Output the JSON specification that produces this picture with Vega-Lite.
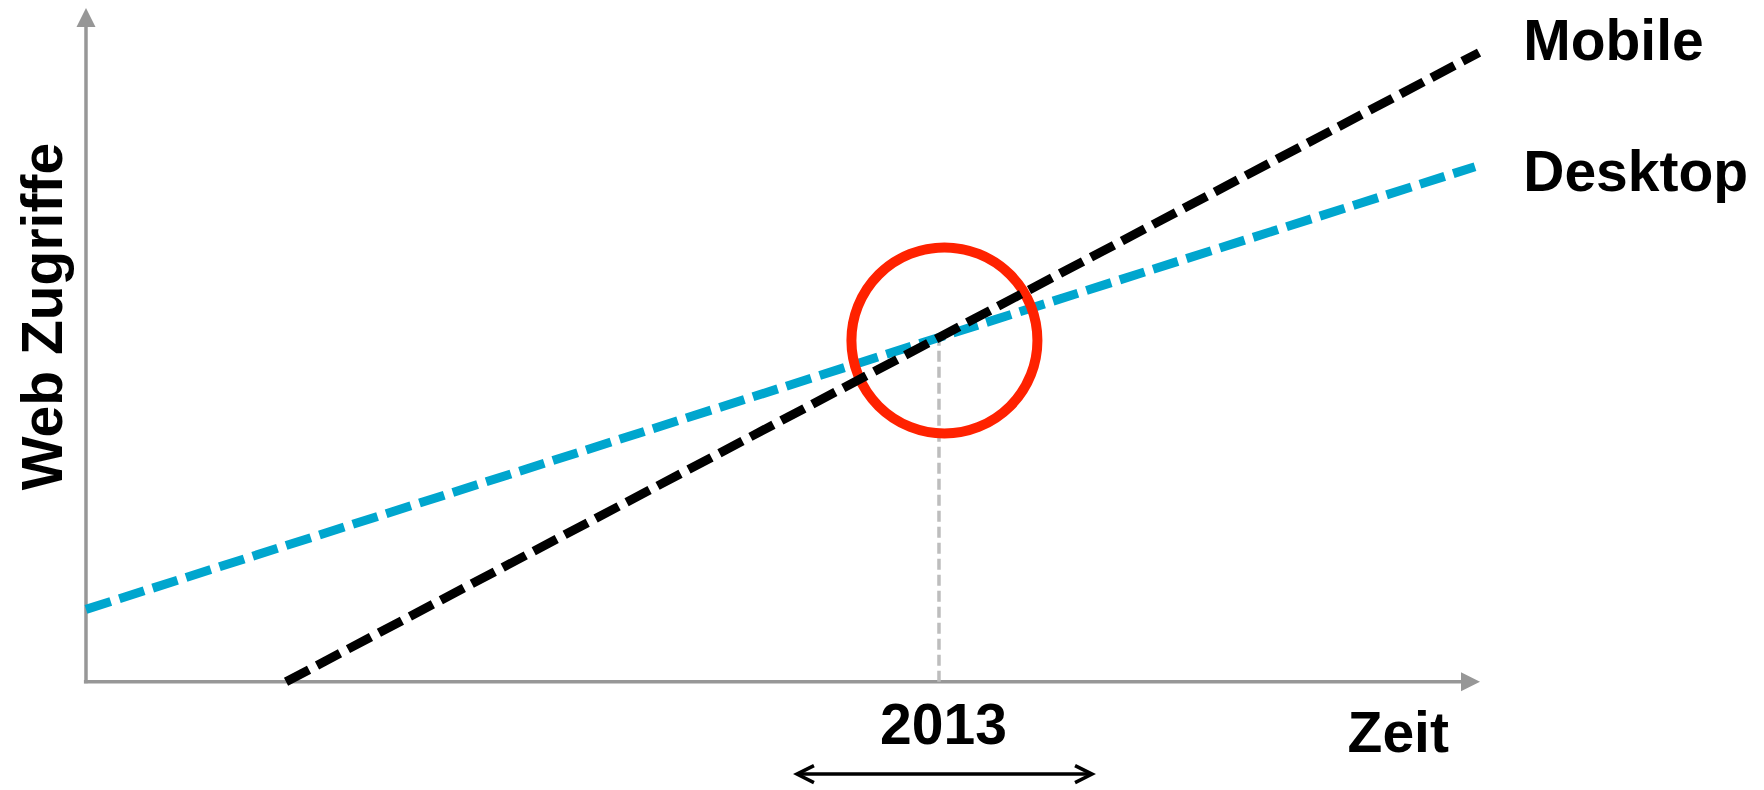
{
  "$schema": "https://vega.github.io/schema/vega-lite/v6.json",
  "width": 1764,
  "height": 790,
  "autosize": {"type": "fit", "contains": "padding"},
  "padding": 0,
  "background": "white",
  "config": {"view": {"stroke": null}, "font": "Liberation Sans"},
  "encoding": {
    "x": {"field": "x", "type": "quantitative", "axis": null, "scale": {"domain": [-6.169, 120.373], "nice": false, "zero": false}},
    "y": {"field": "y", "type": "quantitative", "axis": null, "scale": {"domain": [-15.169, 101.178], "nice": false, "zero": false}}
  },
  "layer": [
    {
      "data": {"values": [
        {"x": -0.15, "y": 0, "x2": 98.9, "y2": 0},
        {"x": 0, "y": -0.2, "x2": 0, "y2": 98.2}
      ]},
      "mark": {"type": "rule", "color": "#979797", "strokeWidth": 3.5},
      "encoding": {"x2": {"field": "x2"}, "y2": {"field": "y2"}}
    },
    {
      "data": {"values": [{"x": 0, "y": 100}]},
      "mark": {"type": "point", "shape": "M 0 0 L -0.5 1 L 0.5 1 Z", "size": 1444, "filled": true, "color": "#979797", "opacity": 1, "strokeWidth": 0}
    },
    {
      "data": {"values": [{"x": 100, "y": 0}]},
      "mark": {"type": "point", "shape": "M 0 0 L -1 -0.5 L -1 0.5 Z", "size": 1444, "filled": true, "color": "#979797", "opacity": 1, "strokeWidth": 0}
    },
    {
      "data": {"values": [{"x": 61.19, "y": 0, "y2": 50.66}]},
      "mark": {"type": "rule", "color": "#BDBDBD", "strokeWidth": 3.5, "strokeDash": [11, 5]},
      "encoding": {"y2": {"field": "y2"}}
    },
    {
      "data": {"values": [
        {"series": "Desktop", "x": 0, "y": 10.75},
        {"series": "Desktop", "x": 99.64, "y": 76.44}
      ]},
      "mark": {"type": "line", "color": "#00A6CE", "strokeWidth": 9, "strokeDash": [26, 9], "strokeCap": "butt"}
    },
    {
      "data": {"values": [{"x": 61.58, "y": 50.66}]},
      "mark": {"type": "point", "shape": "circle", "size": 34596, "filled": false, "color": "#FF2200", "strokeWidth": 10, "opacity": 1}
    },
    {
      "data": {"values": [
        {"series": "Mobile", "x": 14.35, "y": 0},
        {"series": "Mobile", "x": 99.93, "y": 93.37}
      ]},
      "mark": {"type": "line", "color": "#000000", "strokeWidth": 9, "strokeDash": [26, 9], "strokeCap": "butt"}
    },
    {
      "data": {"values": [{"x": 51.1, "y": -13.7, "x2": 72.07}]},
      "mark": {"type": "rule", "color": "#000000", "strokeWidth": 3.5},
      "encoding": {"x2": {"field": "x2"}}
    },
    {
      "data": {"values": [{"x": 51.0, "y": -13.7}]},
      "mark": {"type": "point", "shape": "M 1 -0.5 L 0 0 L 1 0.5", "size": 1156, "filled": false, "color": "#000000", "strokeWidth": 3.5, "opacity": 1}
    },
    {
      "data": {"values": [{"x": 72.17, "y": -13.7}]},
      "mark": {"type": "point", "shape": "M -1 -0.5 L 0 0 L -1 0.5", "size": 1156, "filled": false, "color": "#000000", "strokeWidth": 3.5, "opacity": 1}
    },
    {
      "data": {"values": [
        {"label": "Mobile", "x": 103.1, "y": 92.34},
        {"label": "Desktop", "x": 103.1, "y": 72.9},
        {"label": "Zeit", "x": 90.5, "y": -10.46}
      ]},
      "mark": {"type": "text", "align": "left", "baseline": "alphabetic", "fontSize": 57, "fontWeight": "bold", "font": "Liberation Sans", "color": "#000000"},
      "encoding": {"text": {"field": "label"}}
    },
    {
      "data": {"values": [{"label": "2013", "x": 61.51, "y": -9.28}]},
      "mark": {"type": "text", "align": "center", "baseline": "alphabetic", "fontSize": 57, "fontWeight": "bold", "font": "Liberation Sans", "color": "#000000"},
      "encoding": {"text": {"field": "label"}}
    },
    {
      "data": {"values": [{"label": "Web Zugriffe", "x": -1.72, "y": 54.2}]},
      "mark": {"type": "text", "align": "center", "baseline": "alphabetic", "angle": 270, "fontSize": 57, "fontWeight": "bold", "font": "Liberation Sans", "color": "#000000"},
      "encoding": {"text": {"field": "label"}}
    }
  ]
}
